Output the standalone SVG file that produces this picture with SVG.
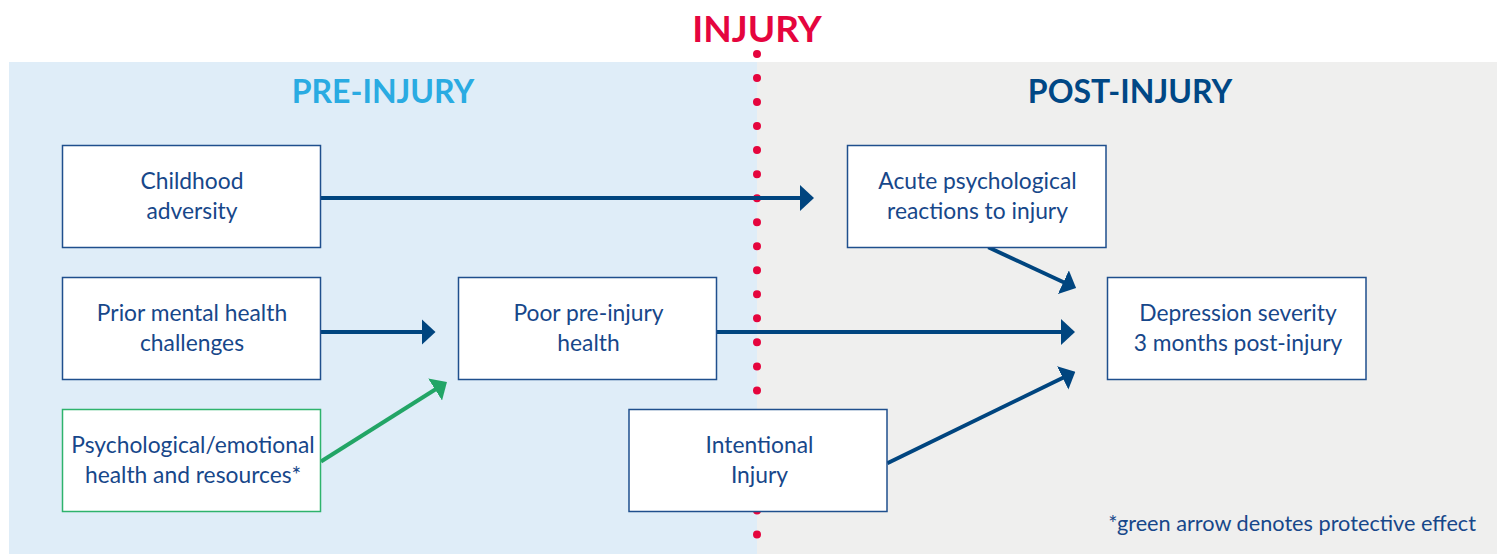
<svg xmlns="http://www.w3.org/2000/svg" width="1502" height="554" viewBox="0 0 1502 554">
<style>
.box{fill:#ffffff;stroke:#1f4f8d;stroke-width:1.5}
.gbox{fill:#ffffff;stroke:#2eb36c;stroke-width:1.5}
.t{font-family:Lato,"Open Sans","Liberation Sans",sans-serif;font-size:22.8px;fill:#17478a;text-anchor:middle}
.h{font-family:Lato,"Open Sans","Liberation Sans",sans-serif;font-weight:bold;text-anchor:middle}
.a{stroke:#00457f;stroke-width:4;fill:none;marker-end:url(#ab)}
.g{stroke:#22a566;stroke-width:4;fill:none;marker-end:url(#ag)}
</style>
<defs>
<marker id="ab" markerUnits="userSpaceOnUse" markerWidth="14" markerHeight="26" refX="2" refY="13" orient="auto" viewBox="0 0 14 26">
<path d="M0,0 L14,13 L0,26 z" fill="#00457f"/>
</marker>
<marker id="ag" markerUnits="userSpaceOnUse" markerWidth="14" markerHeight="26" refX="2" refY="13" orient="auto" viewBox="0 0 14 26">
<path d="M0,0 L14,13 L0,26 z" fill="#22a566"/>
</marker>
</defs>
<rect x="0" y="0" width="1502" height="554" fill="#ffffff"/>
<rect x="9" y="62" width="748" height="492" fill="#dfedf8"/>
<rect x="757" y="62" width="740" height="492" fill="#efefee"/>
<text class="h" x="757" y="42" font-size="37" fill="#e5053e">INJURY</text>
<text class="h" x="383" y="103" font-size="32" fill="#2aabe2">PRE-INJURY</text>
<text class="h" x="1130" y="103" font-size="32" fill="#004785">POST-INJURY</text>
<line x1="757" y1="54" x2="757" y2="560" stroke="#e5053e" stroke-width="8" stroke-linecap="round" stroke-dasharray="0 24.03"/>
<g id="connectors">
<line class="a" x1="321" y1="198" x2="802" y2="198"/>
<line class="a" x1="321" y1="332" x2="423.5" y2="332"/>
<line class="a" x1="716.5" y1="332" x2="1063" y2="332"/>
<line class="g" x1="321" y1="461.5" x2="436.8" y2="388.5"/>
<line class="a" x1="988.3" y1="247.3" x2="1065.2" y2="283"/>
<line class="a" x1="887.3" y1="463.3" x2="1064.5" y2="377"/>
</g>
<g id="childhood">
<rect class="box" x="62.5" y="145.5" width="258" height="102"/>
<text class="t" x="192" y="189">Childhood</text>
<text class="t" x="192" y="219">adversity</text>
</g>
<g id="prior">
<rect class="box" x="62.5" y="277.5" width="258" height="102"/>
<text class="t" x="192" y="321">Prior mental health</text>
<text class="t" x="192" y="351">challenges</text>
</g>
<g id="psych">
<rect class="gbox" x="62.5" y="409.5" width="258" height="102"/>
<text class="t" x="193" y="453">Psychological/emotional</text>
<text class="t" x="193" y="482.5">health and resources*</text>
</g>
<g id="poor">
<rect class="box" x="458.5" y="277.5" width="258" height="102"/>
<text class="t" x="588.5" y="321">Poor pre-injury</text>
<text class="t" x="588.5" y="351">health</text>
</g>
<g id="intentional">
<rect class="box" x="629" y="409.5" width="258" height="102"/>
<text class="t" x="759.5" y="453">Intentional</text>
<text class="t" x="759.5" y="483">Injury</text>
</g>
<g id="acute">
<rect class="box" x="847.5" y="145.5" width="258.5" height="102"/>
<text class="t" x="977.5" y="189">Acute psychological</text>
<text class="t" x="977.5" y="219">reactions to injury</text>
</g>
<g id="depression">
<rect class="box" x="1107.5" y="277.5" width="258.5" height="102"/>
<text class="t" x="1238" y="321">Depression severity</text>
<text class="t" x="1238" y="351">3 months post-injury</text>
</g>
<text x="1476" y="531" font-family="Lato,'Open Sans','Liberation Sans',sans-serif" font-size="21.7" fill="#17478a" text-anchor="end">*green arrow denotes protective effect</text>
</svg>
